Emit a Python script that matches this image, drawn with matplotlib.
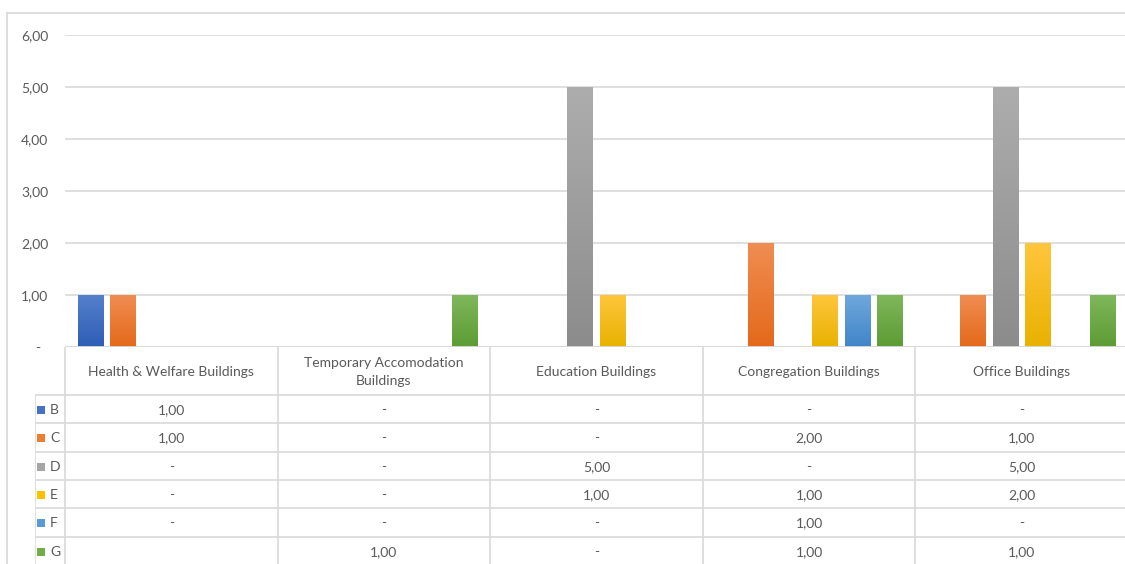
import numpy as np
import matplotlib
matplotlib.use("Agg")
import matplotlib.pyplot as plt
from matplotlib.lines import Line2D
from matplotlib.colors import LinearSegmentedColormap
import matplotlib.transforms as mtransforms

plt.rcParams['font.family'] = ['Lato', 'DejaVu Sans']

categories = ["Health & Welfare Buildings", "Temporary Accomodation\nBuildings",
              "Education Buildings", "Congregation Buildings", "Office Buildings"]
series = ["B", "C", "D", "E", "F", "G"]
nan = np.nan
B = [1, 0, 0, 0, 0]
C = [1, 0, 0, 2, 1]
D = [0, 0, 5, 0, 5]
E = [0, 0, 1, 1, 2]
F = [0, 0, 0, 1, 0]
G = [nan, 1, 0, 1, 1]
values = [B, C, D, E, F, G]

base_colors = ["#4472C4", "#ED7D31", "#A5A5A5", "#FFC000", "#5B9BD5", "#70AD47"]
grad = [("#5580CC", "#2E5DB6"), ("#F08D52", "#E4691A"), ("#ADADAD", "#8C8C8C"),
        ("#FFC63D", "#E8B200"), ("#70A8DD", "#3F85C8"), ("#80B75C", "#5C9C34")]
text_col = "#595959"
grid_col = "#D9D9D9"
fs = 10

W, H = 1125, 564
fig = plt.figure(figsize=(W / 100, H / 100), dpi=100)

# pixel layout
x_left, x_right = 65, 1128
y_top, y_axis = 35, 347
ax = fig.add_axes([x_left / W, (H - y_axis) / H, (x_right - x_left) / W, (y_axis - y_top) / H])
ax.set_xlim(-0.5, 4.5)
ax.set_ylim(0, 6)
ax.set_autoscale_on(False)

pitch = 0.152
bw = 0.122
x = np.arange(len(categories))
for i, (name, vals) in enumerate(zip(series, values)):
    v = np.nan_to_num(np.array(vals, dtype=float))
    pos = x + (i - 2.5) * pitch
    bars = ax.bar(pos, v, width=bw, color=base_colors[i], zorder=3, linewidth=0)
    cmap = LinearSegmentedColormap.from_list(name, [grad[i][1], grad[i][0]])
    for b in bars:
        if b.get_height() <= 0:
            continue
        bx, by = b.get_x(), b.get_y()
        im = ax.imshow(np.linspace(0, 1, 100).reshape(-1, 1), cmap=cmap, origin='lower',
                       extent=(bx, bx + b.get_width(), by, by + b.get_height()),
                       aspect='auto', zorder=4)
        im.set_clip_path(b)

ax.set_yticks(np.arange(0, 7))
ax.set_yticklabels(["-"] + ["%d,00" % k for k in range(1, 7)])
ax.tick_params(axis='y', length=0, pad=12, labelsize=fs, labelcolor=text_col)
lab0 = ax.get_yticklabels()[0]
lab0.set_transform(lab0.get_transform() + mtransforms.ScaledTranslation(-8 / 100, 0, fig.dpi_scale_trans))
ax.set_xticks([])
ax.grid(axis='y', color=grid_col, linewidth=1.2, zorder=0)
for s in ax.spines.values():
    s.set_visible(False)
ax.axhline(0, color=grid_col, linewidth=1.3, zorder=5)

# data table below
t_left = 35
ax_t = fig.add_axes([t_left / W, 0, (x_right - t_left) / W, (H - y_axis) / H])
ax_t.set_xlim(-0.5 - (x_left - t_left) / ((x_right - x_left) / 5), 4.5)
ax_t.set_ylim(H - y_axis, 0)
ax_t.axis('off')
head_h = 48
row_h = 28.33
lc = dict(color=grid_col, linewidth=1.2)
bottom = H - y_axis
ax_t.plot([-0.5, -0.5], [0, bottom], **lc)
x0 = ax_t.get_xlim()[0]
ax_t.plot([x0, x0], [head_h, bottom], **lc)
for k in range(1, 6):
    ax_t.plot([k - 0.5, k - 0.5], [0, bottom], **lc)
for r in range(len(series)):
    yy = head_h + r * row_h
    ax_t.plot([x0, 4.5], [yy, yy], **lc)

for k, cat in enumerate(categories):
    ax_t.text(k, head_h / 2 + 1, cat, ha='center', va='center', fontsize=fs,
              color=text_col, linespacing=1.6)

for r, (name, vals) in enumerate(zip(series, values)):
    yc = head_h + (r + 0.5) * row_h + 1
    ax_t.scatter([x0 + 0.028], [yc], marker='s', s=34, color=base_colors[r], linewidths=0)
    ax_t.text(x0 + 0.07, yc, name, ha='left', va='center', fontsize=fs, color=text_col)
    for k, v in enumerate(vals):
        if np.isnan(v):
            s = ""
        elif v == 0:
            s = "-"
        else:
            s = ("%.2f" % v).replace(".", ",")
        ax_t.text(k, yc, s, ha='center', va='center', fontsize=fs, color=text_col)

# chart outer border
fig.add_artist(Line2D([7 / W, 1.0], [1 - 13 / H, 1 - 13 / H], color=grid_col, linewidth=1.2))
fig.add_artist(Line2D([7 / W, 7 / W], [0, 1 - 13 / H], color=grid_col, linewidth=1.2))

fig.savefig("out.png", dpi=100)
